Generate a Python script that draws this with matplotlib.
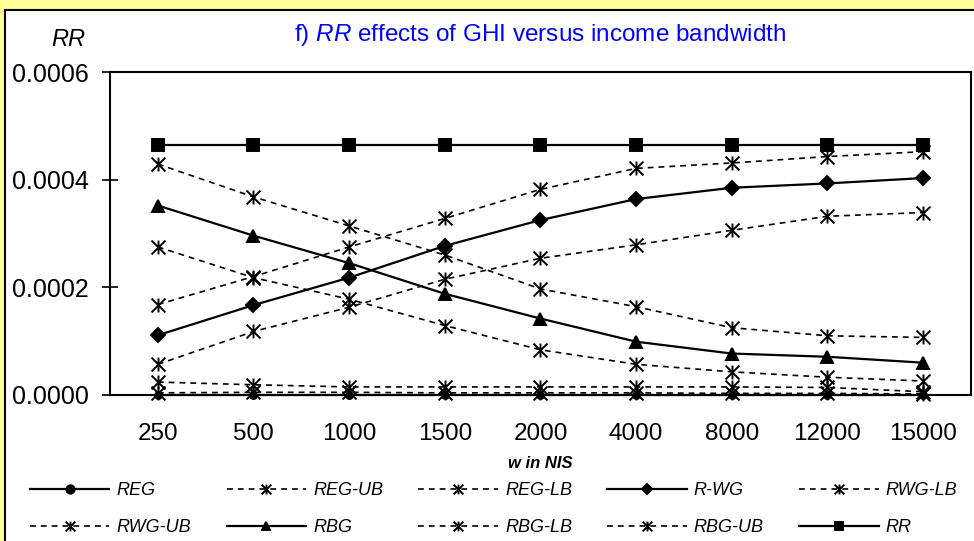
import matplotlib
matplotlib.use("Agg")
import matplotlib.pyplot as plt
from matplotlib.path import Path
from matplotlib.patches import Rectangle

plt.rcParams['font.family'] = ['Liberation Sans', 'DejaVu Sans']
plt.rcParams['mathtext.fontset'] = 'custom'
plt.rcParams['mathtext.rm'] = 'Liberation Sans'
plt.rcParams['mathtext.it'] = 'Liberation Sans:italic'

w_labels = ['250', '500', '1000', '1500', '2000', '4000', '8000', '12000', '15000']

REG = [0.0, 0.0, 0.0, 0.0, 0.0, 0.0, 0.0, 0.0, 0.0]
REG_UB = [0.000024, 0.000019, 0.000015, 0.000015, 0.000015, 0.000015, 0.000015, 0.000014, 0.000006]
REG_LB = [0.000004, 0.000005, 0.000005, 0.000004, 0.000004, 0.000004, 0.000003, 0.000003, 0.000002]
R_WG = [0.000111, 0.000167, 0.000218, 0.000277, 0.000325, 0.000364, 0.000385, 0.000393, 0.000403]
RWG_LB = [0.000057, 0.000118, 0.000163, 0.000215, 0.000254, 0.000279, 0.000306, 0.000332, 0.000339]
RWG_UB = [0.000168, 0.000220, 0.000275, 0.000328, 0.000382, 0.000421, 0.000431, 0.000443, 0.000452]
RBG = [0.000352, 0.000296, 0.000245, 0.000188, 0.000142, 0.000099, 0.000077, 0.000071, 0.000060]
RBG_LB = [0.000275, 0.000218, 0.000178, 0.000129, 0.000084, 0.000057, 0.000043, 0.000033, 0.000026]
RBG_UB = [0.000429, 0.000368, 0.000314, 0.000260, 0.000197, 0.000164, 0.000125, 0.000110, 0.000107]
RR = [0.000465, 0.000465, 0.000465, 0.000465, 0.000465, 0.000465, 0.000465, 0.000465, 0.000465]

# excel style star: an X with a vertical bar
star = Path([(-1, -1), (1, 1), (-1, 1), (1, -1), (0, -1), (0, 1)],
            [Path.MOVETO, Path.LINETO] * 3)

dash = (0, (3.5, 3))

series = [
  ('REG', REG, '-', 'o'),
  ('REG-UB', REG_UB, dash, star),
  ('REG-LB', REG_LB, dash, star),
  ('R-WG', R_WG, '-', 'D'),
  ('RWG-LB', RWG_LB, dash, star),
  ('RWG-UB', RWG_UB, dash, star),
  ('RBG', RBG, '-', '^'),
  ('RBG-LB', RBG_LB, dash, star),
  ('RBG-UB', RBG_UB, dash, star),
  ('RR', RR, '-', 's'),
]

fig = plt.figure(figsize=(9.74, 5.41), dpi=100)
fig.patch.set_facecolor('#FFFF99')
fig.patches.append(Rectangle((5 / 974, -0.05), 1.2, 0.05 + (541 - 10) / 541,
                             transform=fig.transFigure, facecolor='white',
                             edgecolor='black', linewidth=1.5, zorder=-5))

ax = fig.add_axes([110 / 974, (541 - 395) / 541, (971 - 110) / 974, (395 - 72) / 541])
ax.set_facecolor('white')

x = list(range(len(w_labels)))
handles = []
for name, vals, ls, mk in series:
  solid = ls == '-'
  ms = {'o': 5, 'D': 7.5, '^': 9, 's': 8}.get(mk, 10) if solid else 10
  h, = ax.plot(x, vals, color='black', linestyle=ls,
               linewidth=1.6 if solid else 1.2,
               marker=mk, markersize=ms, markeredgewidth=1.4,
               markerfacecolor='black', markeredgecolor='black',
               clip_on=False, label=name)
  handles.append(h)

ax.set_xlim(-0.5, len(w_labels) - 0.5)
ax.set_ylim(0, 0.0006)
ax.set_yticks([0, 0.0002, 0.0004, 0.0006])
ax.set_yticklabels(['0.0000', '0.0002', '0.0004', '0.0006'])
ax.set_xticks(x)
ax.set_xticklabels(w_labels)
ax.tick_params(axis='y', direction='inout', length=11, width=1.2, labelsize=18, pad=10)
ax.tick_params(axis='x', length=0, labelsize=17.5, pad=20)
for s in ax.spines.values():
  s.set_linewidth(1.5)

ax.set_xlabel('w in NIS', fontsize=12, fontweight='bold', fontstyle='italic', labelpad=8)
ax.set_title('f) $\\it{RR}$ effects of GHI versus income bandwidth',
             color='#0000FF', fontsize=17.5, pad=22)
fig.text(68 / 974, 1 - 40 / 541, 'RR', fontsize=17, fontstyle='italic',
         ha='center', va='center')

# row-major order like the original legend
order = [0, 5, 1, 6, 2, 7, 3, 8, 4, 9]
leg = fig.legend([handles[i] for i in order], [series[i][0] for i in order],
                 loc='upper left', bbox_to_anchor=(30 / 974, 1 - 482 / 541),
                 ncol=5, frameon=False, borderpad=0, borderaxespad=0,
                 handlelength=4.4, handletextpad=0.4, columnspacing=1.95,
                 labelspacing=1.1, markerscale=0.7,
                 prop={'size': 13, 'style': 'italic'})
# REG dots are tiny in the plot (hidden under stars) but normal in the legend
leg.legend_handles[0].set_markersize(6)

fig.savefig('out.png', dpi=100, facecolor=fig.get_facecolor())
